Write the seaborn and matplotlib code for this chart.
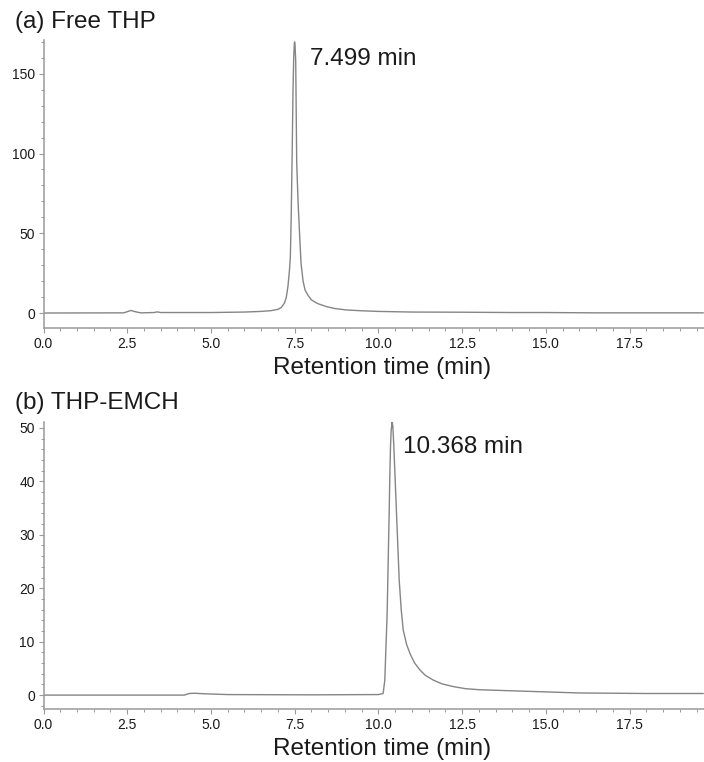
import numpy as np
import pandas as pd
import seaborn as sns
import matplotlib
matplotlib.use("Agg")
import matplotlib.pyplot as plt
from matplotlib.ticker import MultipleLocator, FormatStrFormatter

# ---- data ----
time_a = [0, 2.4, 2.55, 2.62, 2.7, 2.9, 3.3, 3.4, 3.5, 5.0, 6.0, 6.5, 6.8, 7.0, 7.1,
          7.2, 7.25, 7.3, 7.34, 7.37, 7.395, 7.42, 7.45, 7.47, 7.49, 7.5, 7.51, 7.53,
          7.56, 7.6, 7.64, 7.69, 7.75, 7.81, 7.9, 8.0, 8.1, 8.2, 8.45, 8.7, 9.05, 9.5,
          10.0, 11.0, 12.5, 14.0, 15.0, 16.5, 18.0, 19.7]
signal_a = [0, 0.1, 1.2, 1.6, 1.0, 0.1, 0.3, 0.7, 0.3, 0.3, 0.6, 1.0, 1.5, 2.3, 3.5,
            6.5, 10, 17, 26, 35, 60, 94, 140, 160, 169.5, 170, 168, 158,
            94, 70, 52, 31, 20, 14.4, 11, 8.2, 6.9, 5.8, 4.0, 2.8, 1.9, 1.4,
            1.0, 0.6, 0.5, 0.3, 0.3, 0.1, 0.1, 0.1]

time_b = [0, 4.2, 4.35, 4.5, 4.8, 5.5, 8.0, 10.0, 10.14, 10.19, 10.26, 10.32, 10.34,
          10.36, 10.38, 10.41, 10.43, 10.46, 10.54, 10.62, 10.68, 10.74, 10.84, 10.94,
          11.08, 11.24, 11.4, 11.64, 11.9, 12.23, 12.6, 13.03, 14.5, 16.0, 18.0, 19.7]
signal_b = [0, 0, 0.3, 0.35, 0.25, 0.1, 0.05, 0.1, 0.3, 2.8, 15.3, 34, 41,
            46.5, 49.5, 51.2, 50.3, 46.5, 34, 21.5, 16, 12.2, 9.5, 7.8,
            6.0, 4.7, 3.7, 2.8, 2.1, 1.6, 1.2, 1.0, 0.7, 0.4, 0.3, 0.3]

titles = ["(a) Free THP", "(b) THP-EMCH"]
peak_labels = ["7.499 min", "10.368 min"]
x_label = "Retention time (min)"

# ---- style ----
sns.set_style("white")
plt.rcParams['font.family'] = ['Liberation Sans', 'DejaVu Sans']

df_a = pd.DataFrame({"t": time_a, "v": signal_a})
df_b = pd.DataFrame({"t": time_b, "v": signal_b})

W, H = 704, 762
fig = plt.figure(figsize=(W / 100, H / 100), dpi=100)

left = 43.5 / W
ax_a = fig.add_axes([left, 1 - 328 / H, 1 - left, (328 - 40) / H])
ax_b = fig.add_axes([left, 1 - 709 / H, 1 - left, (709 - 422) / H])

line_color = "#858585"
spine_color = "#9a9a9a"
text_color = "#1a1a1a"

configs = [
    (ax_a, df_a, (-9.4, 171.2), 50, 10, (7.96, 159.4), titles[0], peak_labels[0], 22),
    (ax_b, df_b, (-2.6, 51.1), 10, 2, (10.73, 46.4), titles[1], peak_labels[1], 403),
]

for ax, df, ylim, ymaj, ymin, txt_pos, title, plabel, title_y in configs:
    sns.lineplot(data=df, x="t", y="v", ax=ax, color=line_color, linewidth=1.0)
    ax.set_xlim(0, 19.72)
    ax.set_ylim(*ylim)
    ax.xaxis.set_major_locator(MultipleLocator(2.5))
    ax.xaxis.set_minor_locator(MultipleLocator(0.5))
    ax.yaxis.set_major_locator(MultipleLocator(ymaj))
    ax.yaxis.set_minor_locator(MultipleLocator(ymin))
    ax.xaxis.set_major_formatter(FormatStrFormatter('%.1f'))
    ax.yaxis.set_major_formatter(FormatStrFormatter('%d'))
    for s in ["top", "right"]:
        ax.spines[s].set_visible(False)
    for s in ["left", "bottom"]:
        ax.spines[s].set_color(spine_color)
        ax.spines[s].set_linewidth(1.1)
    ax.tick_params(axis="both", which="major", direction="out", length=3.8, width=0.8,
                   color=spine_color, labelsize=10, labelcolor=text_color, pad=2.5,
                   bottom=True, left=True)
    ax.tick_params(axis="both", which="minor", direction="out", length=2.4, width=0.7,
                   color=spine_color, bottom=True, left=True)
    ax.set_ylabel("")
    ax.set_xlabel(x_label, fontsize=17.5, color=text_color)
    ax.xaxis.label.set_va("center")
    ax.xaxis.set_label_coords(0.512, -0.138)
    ax.text(txt_pos[0], txt_pos[1], plabel, fontsize=17.5, color=text_color,
            ha="left", va="center")
    fig.text(15 / W, 1 - title_y / H, title, fontsize=17.5, color=text_color,
             ha="left", va="center")

fig.savefig("out.png", dpi=100)
